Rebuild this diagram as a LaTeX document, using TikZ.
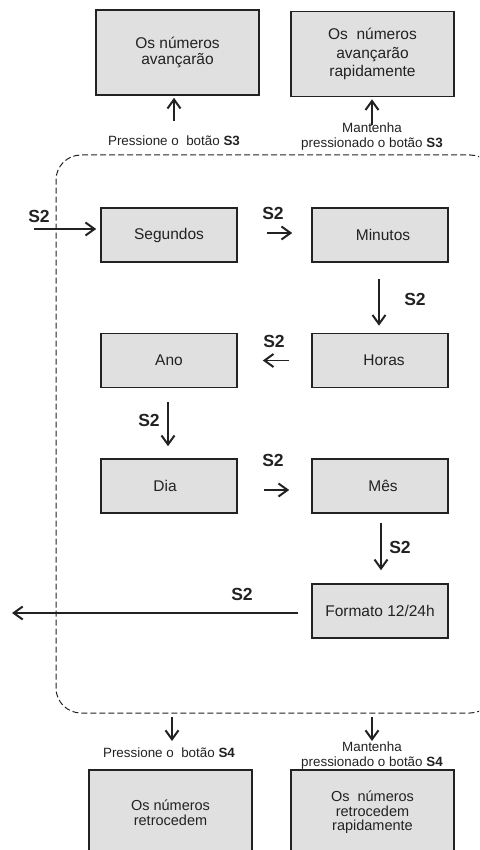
\documentclass[tikz,border=0pt]{standalone}
\usepackage{fontspec}
\setmainfont{Liberation Sans}
\usetikzlibrary{arrows.meta}
\definecolor{ink}{HTML}{222222}
\definecolor{boxfill}{HTML}{E0E0E0}
\begin{document}
\begin{tikzpicture}[x=1pt,y=-1pt,
  bigbox/.style={draw=ink, line width=1.6pt, fill=boxfill, minimum width=163pt, minimum height=85pt, inner sep=0pt, align=center, text=ink},
  midbox/.style={draw=ink, line width=1.6pt, fill=boxfill, minimum width=136pt, minimum height=54pt, inner sep=0pt, text=ink, font=\fontsize{15.5}{18}\selectfont},
  lbl/.style={inner sep=0pt, align=center, text=ink, font=\fontsize{13.4}{15}\selectfont},
  s2/.style={inner sep=0pt, text=ink, font=\fontsize{17.5}{18}\selectfont\bfseries},
  arr/.style={draw=ink, line width=1.7pt, -{Straight Barb[length=9pt,width=13pt,line width=2pt]}},
  frame/.style={draw=ink, line width=1pt, dash pattern=on 6pt off 3pt, rounded corners=25pt}
]
\useasboundingbox (0,0) rectangle (479,850);
\begin{scope}
\clip (0,0) rectangle (479,850);
% dashed frame
\draw[frame] (495,200) -- (495,155) -- (56,155) -- (56,713) -- (495,713) -- (495,660);

% top boxes
\node[bigbox, font=\fontsize{15.5}{16}\selectfont] (tb1) at (177.5,52.5) {Os números\\avançarão};
\node[bigbox, font=\fontsize{15.5}{18.5}\selectfont] (tb2) at (372.5,54) {Os~ números\\avançarão\\rapidamente};

\node[lbl] (lab1) at (174,141) {Pressione o~ botão \textbf{S3}};
\node[lbl] (lab2) at (372,137) {Mantenha\\pressionado o botão \textbf{S3}};
\coordinate (u1) at (174,121);
\coordinate (u2) at (372,125);
\draw[arr, shorten >=2pt] (u1) -- (u1 |- tb1.south);
\draw[arr, shorten >=2pt] (u2) -- (u2 |- tb2.south);

% middle boxes
\node[midbox] (seg) at (169,235) {Segundos};
\node[midbox] (min) at (380,235) {\hspace{6pt}Minutos};
\node[midbox] (ano) at (169,360.5) {Ano};
\node[midbox] (hor) at (380,360.5) {\hspace{8pt}Horas};
\node[midbox] (dia) at (169,486) {\hspace{-8pt}Dia};
\node[midbox] (mes) at (380,486) {\hspace{6pt}Mês};
\node[midbox] (fmt) at (380,611) {Formato 12/24h};

% entry
\coordinate (entry) at (34,229);
\draw[arr, shorten >=4pt] (entry) -- (entry -| seg.west);
\node[s2] (s2a) at (39,216) {S2};

\draw[arr, shorten <=29pt, shorten >=19pt] ([yshift=2pt]seg.east) -- ([yshift=2pt]min.west);
\node[s2] (s2b) at (273,213) {S2};

\draw[arr, line width=2.2pt, shorten <=16pt, shorten >=7pt] ([xshift=-1pt]min.south) -- ([xshift=-1pt]hor.north);
\node[s2] (s2c) at (415,299) {S2};

\draw[arr, shorten <=22pt, shorten >=25pt] (hor.west) -- (ano.east);
\node[s2] (s2d) at (274,341) {S2};

\draw[arr, line width=2.2pt, shorten <=14pt, shorten >=12pt] ([xshift=-1pt]ano.south) -- ([xshift=-1pt]dia.north);
\node[s2] (s2e) at (149,420) {S2};

\draw[arr, shorten <=26pt, shorten >=22pt] ([yshift=-4pt]dia.east) -- ([yshift=-4pt]mes.west);
\node[s2] (s2f) at (273,460) {S2};

\draw[arr, shorten <=9pt, shorten >=13pt] ([xshift=1pt]mes.south) -- ([xshift=1pt]fmt.north);
\node[s2] (s2g) at (400,547) {S2};

\coordinate (exitL) at (12,613);
\draw[arr, shorten <=13pt] (fmt.west |- exitL) -- (exitL);
\node[s2] (s2h) at (242,594) {S2};

% bottom
\coordinate (d1) at (172,717);
\coordinate (d1e) at (172,741);
\coordinate (d2) at (372,717);
\coordinate (d2e) at (372,741);
\draw[arr] (d1) -- (d1e);
\draw[arr] (d2) -- (d2e);
\node[lbl] (lab3) at (169,753) {Pressione o~ botão \textbf{S4}};
\node[lbl] (lab4) at (372,756) {Mantenha\\pressionado o botão \textbf{S4}};

\node[bigbox, font=\fontsize{14.5}{15}\selectfont] (bb1) at (170.5,812.5) {Os números\\retrocedem};
\node[bigbox, font=\fontsize{14.5}{14.5}\selectfont] (bb2) at (372.5,812.5) {Os~ números\\retrocedem\\rapidamente};
\end{scope}
\end{tikzpicture}
\end{document}
